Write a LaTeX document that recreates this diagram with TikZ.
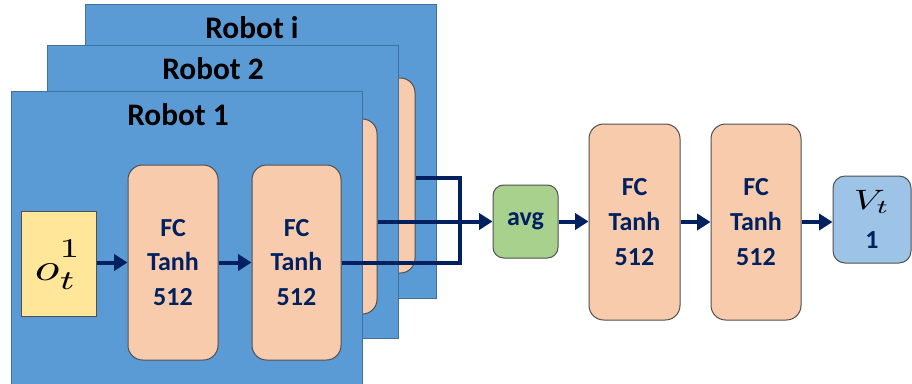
\documentclass[tikz,border=0pt]{standalone}
\usepackage{fontspec}
\setmainfont{Carlito}
\usepackage{graphicx}
\usetikzlibrary{arrows.meta}

\definecolor{panelblue}{HTML}{5B9BD5}
\definecolor{paneledge}{HTML}{41719C}
\definecolor{peach}{HTML}{F8CBAD}
\definecolor{boxedge}{HTML}{505050}
\definecolor{obsyellow}{HTML}{FFE699}
\definecolor{avggreen}{HTML}{A9D18E}
\definecolor{valblue}{HTML}{9DC3E6}
\definecolor{navy}{HTML}{002060}

\tikzset{
  panel/.style={draw=paneledge, fill=panelblue, line width=0.75pt, inner sep=0pt,
    minimum width=263.25pt},
  panellabel/.style={font=\fontsize{23.5}{28}\selectfont\bfseries, text=black, inner sep=0pt},
  layer/.style={draw=boxedge, fill=peach, line width=0.75pt, rounded corners=11pt,
    minimum width=67.5pt, minimum height=146.25pt, inner sep=0pt,
    font=\fontsize{19.5}{26}\selectfont\bfseries, text=navy, align=center},
  obsbox/.style={draw=boxedge, fill=obsyellow, line width=0.75pt,
    minimum width=56.25pt, minimum height=78.75pt, inner sep=0pt},
  avgbox/.style={draw=boxedge, fill=avggreen, line width=0.75pt, rounded corners=8pt,
    minimum width=48.75pt, minimum height=54.75pt, inner sep=0pt,
    font=\fontsize{19.5}{24}\selectfont\bfseries, text=navy},
  valbox/.style={draw=boxedge, fill=valblue, line width=0.75pt, rounded corners=9pt,
    minimum width=58.5pt, minimum height=65.25pt, inner sep=0pt, align=center,
    font=\fontsize{20}{29}\selectfont},
  link/.style={draw=navy, line width=3pt, line join=miter},
  flow/.style={link, -{Triangle[length=10pt, width=12pt]}},
}

% 10pt math blown up, wider than tall
\newcommand{\bigmath}[3]{\scalebox{#1}[#2]{\fontsize{10}{12}\selectfont$#3$}}

\begin{document}
\begin{tikzpicture}[x=0.75pt, y=-0.75pt]
  \useasboundingbox (0,0) rectangle (912,383);
  \clip (0,0) rectangle (912,383);

  % back panel: robot i
  \node[panel, minimum height=220.5pt] (pi) at (260.5,151) {};
  \node[panellabel] (li) at (252,28) {Robot i};
  \node[layer, minimum width=66.75pt] (rib2) at (370.5,175.5) {};

  % middle panel: robot 2
  \node[panel, minimum height=219.75pt] (p2) at (222.5,191.5) {};
  \node[panellabel] (l2) at (213,69) {Robot 2};
  \node[layer, minimum width=66.75pt] (r2b2) at (332.5,216.5) {};

  % front panel: robot 1
  \node[panel, minimum height=231.75pt] (p1) at (186.5,245.5) {};
  \node[panellabel] (l1) at (178,115) {Robot 1};
  \node[obsbox] (obs) at (58.5,263.5) {};
  \node[inner sep=0pt] (obstext) at (58.5,265)
    {\bigmath{3.8}{2.9}{o^{\raisebox{2.3pt}{$\scriptstyle 1$}}_{t}}};
  \node[layer] (r1b1) at (173,262.5) {FC\\Tanh\\512};
  \node[layer, minimum width=66.75pt] (r1b2) at (296.5,262.5) {FC\\Tanh\\512};

  \draw[flow] (obs.east |- r1b1.west) -- (r1b1.west);
  \draw[flow] (r1b1.east) -- (r1b2.west);

  % shared head
  \node[avgbox] (avg) at (525.5,221.5) {avg};
  \node[layer, minimum width=68.25pt, minimum height=147pt] (fca) at (634.5,222) {FC\\Tanh\\512};
  \node[layer, minimum width=67.5pt, minimum height=147pt] (fcb) at (756,222) {FC\\Tanh\\512};
  \node[valbox] (val) at (872,219.5)
    {\bigmath{2.9}{2.1}{V_t}\\
     {\fontsize{19.5}{22}\selectfont\bfseries\color{navy}1}};

  % gather the per-robot outputs
  \coordinate (jt) at (460,178);
  \coordinate (jb) at (460,263);
  \draw[link] (r1b2.east |- jb) -- (jb) -- (jt) -- (rib2.east |- jt);
  \draw[flow] (r2b2.east |- avg.west) -- (avg.west);

  \draw[flow] (avg.east) -- (avg.east -| fca.west);
  \draw[flow] (fca.east) -- (fcb.west);
  \draw[flow] (fcb.east) -- (fcb.east -| val.west);
\end{tikzpicture}
\end{document}
